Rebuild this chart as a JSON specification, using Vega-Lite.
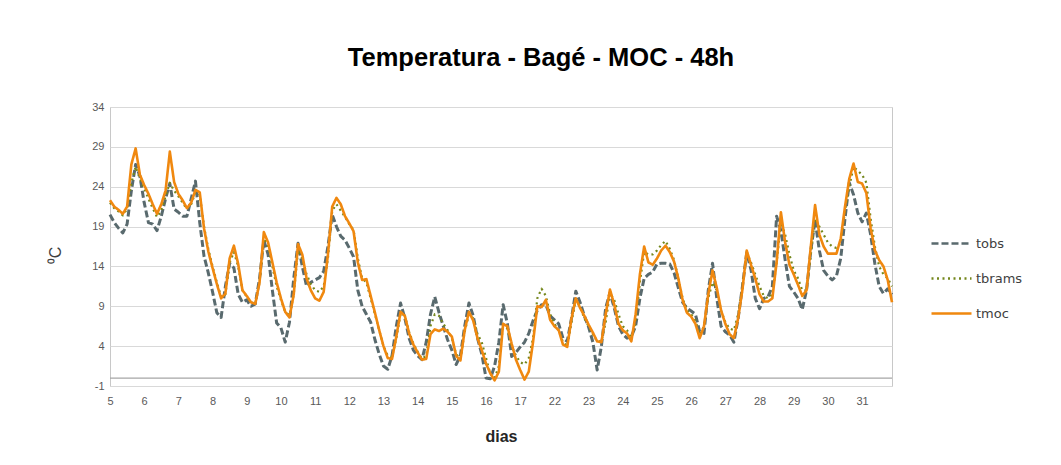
{
"$schema": "https://vega.github.io/schema/vega-lite/v6.json",
"width": 782, "height": 279,
"autosize": {"type": "none"},
"padding": {"left": 110, "top": 107, "right": 169, "bottom": 79},
"background": "white",
"title": {"text": "Temperatura - Bagé - MOC - 48h", "font": "Liberation Sans", "fontSize": 25.5, "fontWeight": "bold", "color": "#000000", "anchor": "middle", "dx": 40, "baseline": "alphabetic", "offset": 10},
"config": {
  "view": {"stroke": "#c8c8c8", "strokeWidth": 1},
  "axis": {"labelFont": "Liberation Sans", "labelFontSize": 11, "labelColor": "#595959", "titleFont": "Liberation Sans", "titleColor": "#404040"},
  "legend": {"symbolType": "stroke", "symbolSize": 1600, "symbolStrokeWidth": 2.6, "labelFont": "DejaVu Sans", "labelFontSize": 13, "labelColor": "#404040", "labelOffset": 3}
},
"data": {"values": [
{"t":0,"tobs":20.5,"tbrams":22.0,"tmoc":22.3},{"t":1,"tobs":19.5,"tbrams":21.3,"tmoc":21.5},{"t":2,"tobs":18.8,"tbrams":20.9,"tmoc":21.1},{"t":3,"tobs":18.2,"tbrams":20.4,"tmoc":20.6},{"t":4,"tobs":19.3,"tbrams":21.2,"tmoc":21.5},{"t":5,"tobs":23.5,"tbrams":24.5,"tmoc":26.8},{"t":6,"tobs":26.8,"tbrams":26.5,"tmoc":28.8},{"t":7,"tobs":25.3,"tbrams":25.0,"tmoc":25.5},
{"t":8,"tobs":22.0,"tbrams":23.8,"tmoc":24.2},{"t":9,"tobs":19.5,"tbrams":22.5,"tmoc":23.1},{"t":10,"tobs":19.3,"tbrams":21.3,"tmoc":21.8},{"t":11,"tobs":18.5,"tbrams":20.2,"tmoc":20.6},{"t":12,"tobs":20.3,"tbrams":21.0,"tmoc":21.8},{"t":13,"tobs":22.5,"tbrams":22.8,"tmoc":23.5},{"t":14,"tobs":24.4,"tbrams":24.5,"tmoc":28.4},{"t":15,"tobs":21.2,"tbrams":23.5,"tmoc":24.6},
{"t":16,"tobs":20.8,"tbrams":22.8,"tmoc":23.1},{"t":17,"tobs":20.3,"tbrams":22.0,"tmoc":22.3},{"t":18,"tobs":20.3,"tbrams":21.2,"tmoc":21.3},{"t":19,"tobs":22.5,"tbrams":21.8,"tmoc":22.0},{"t":20,"tobs":24.7,"tbrams":23.3,"tmoc":23.6},{"t":21,"tobs":19.5,"tbrams":23.0,"tmoc":23.3},{"t":22,"tobs":15.3,"tbrams":19.0,"tmoc":18.8},{"t":23,"tobs":13.2,"tbrams":16.2,"tmoc":15.9},
{"t":24,"tobs":10.8,"tbrams":14.0,"tmoc":13.8},{"t":25,"tobs":8.2,"tbrams":12.0,"tmoc":11.8},{"t":26,"tobs":7.6,"tbrams":10.2,"tmoc":10.0},{"t":27,"tobs":11.5,"tbrams":10.5,"tmoc":10.6},{"t":28,"tobs":14.4,"tbrams":14.5,"tmoc":15.0},{"t":29,"tobs":13.8,"tbrams":15.8,"tmoc":16.6},{"t":30,"tobs":10.5,"tbrams":14.0,"tmoc":14.3},{"t":31,"tobs":9.5,"tbrams":11.0,"tmoc":11.0},
{"t":32,"tobs":9.8,"tbrams":10.2,"tmoc":10.3},{"t":33,"tobs":9.0,"tbrams":9.5,"tmoc":9.5},{"t":34,"tobs":9.3,"tbrams":9.3,"tmoc":9.3},{"t":35,"tobs":12.5,"tbrams":12.0,"tmoc":12.0},{"t":36,"tobs":17.3,"tbrams":17.5,"tmoc":18.3},{"t":37,"tobs":15.5,"tbrams":16.5,"tmoc":17.0},{"t":38,"tobs":11.0,"tbrams":14.0,"tmoc":14.5},{"t":39,"tobs":6.9,"tbrams":11.5,"tmoc":12.0},
{"t":40,"tobs":6.3,"tbrams":9.8,"tmoc":10.0},{"t":41,"tobs":4.5,"tbrams":8.3,"tmoc":8.3},{"t":42,"tobs":7.0,"tbrams":7.8,"tmoc":7.6},{"t":43,"tobs":12.5,"tbrams":10.5,"tmoc":10.5},{"t":44,"tobs":16.9,"tbrams":16.0,"tmoc":16.8},{"t":45,"tobs":14.0,"tbrams":15.0,"tmoc":15.5},{"t":46,"tobs":11.5,"tbrams":13.0,"tmoc":12.5},{"t":47,"tobs":12.0,"tbrams":11.8,"tmoc":11.0},
{"t":48,"tobs":12.3,"tbrams":11.0,"tmoc":10.0},{"t":49,"tobs":12.6,"tbrams":10.8,"tmoc":9.7},{"t":50,"tobs":13.4,"tbrams":11.5,"tmoc":10.8},{"t":51,"tobs":16.5,"tbrams":15.0,"tmoc":15.5},{"t":52,"tobs":20.5,"tbrams":21.0,"tmoc":21.5},{"t":53,"tobs":19.0,"tbrams":21.8,"tmoc":22.6},{"t":54,"tobs":17.8,"tbrams":21.0,"tmoc":21.8},{"t":55,"tobs":17.3,"tbrams":20.2,"tmoc":20.3},
{"t":56,"tobs":16.3,"tbrams":19.3,"tmoc":19.4},{"t":57,"tobs":15.2,"tbrams":18.6,"tmoc":18.4},{"t":58,"tobs":11.0,"tbrams":15.0,"tmoc":14.5},{"t":59,"tobs":9.0,"tbrams":12.5,"tmoc":12.3},{"t":60,"tobs":8.0,"tbrams":12.0,"tmoc":12.4},{"t":61,"tobs":7.0,"tbrams":10.0,"tmoc":10.3},{"t":62,"tobs":4.8,"tbrams":8.0,"tmoc":8.2},{"t":63,"tobs":3.0,"tbrams":6.0,"tmoc":6.0},
{"t":64,"tobs":1.5,"tbrams":4.0,"tmoc":4.0},{"t":65,"tobs":1.1,"tbrams":2.8,"tmoc":2.5},{"t":66,"tobs":2.8,"tbrams":2.6,"tmoc":2.4},{"t":67,"tobs":6.5,"tbrams":5.0,"tmoc":5.2},{"t":68,"tobs":9.4,"tbrams":8.0,"tmoc":8.3},{"t":69,"tobs":7.5,"tbrams":7.8,"tmoc":7.8},{"t":70,"tobs":5.0,"tbrams":5.8,"tmoc":5.6},{"t":71,"tobs":3.5,"tbrams":4.3,"tmoc":4.2},
{"t":72,"tobs":2.8,"tbrams":3.3,"tmoc":3.2},{"t":73,"tobs":2.3,"tbrams":2.4,"tmoc":2.3},{"t":74,"tobs":4.5,"tbrams":2.8,"tmoc":2.4},{"t":75,"tobs":8.0,"tbrams":6.5,"tmoc":5.5},{"t":76,"tobs":10.2,"tbrams":8.0,"tmoc":6.1},{"t":77,"tobs":8.2,"tbrams":7.8,"tmoc":5.9},{"t":78,"tobs":6.5,"tbrams":6.8,"tmoc":6.2},{"t":79,"tobs":4.8,"tbrams":6.0,"tmoc":5.8},
{"t":80,"tobs":3.5,"tbrams":5.0,"tmoc":5.2},{"t":81,"tobs":1.7,"tbrams":3.0,"tmoc":2.8},{"t":82,"tobs":2.8,"tbrams":2.4,"tmoc":2.2},{"t":83,"tobs":6.5,"tbrams":5.8,"tmoc":6.0},{"t":84,"tobs":9.4,"tbrams":8.0,"tmoc":8.3},{"t":85,"tobs":7.8,"tbrams":7.5,"tmoc":7.2},{"t":86,"tobs":5.0,"tbrams":5.5,"tmoc":5.0},{"t":87,"tobs":3.0,"tbrams":4.5,"tmoc":3.5},
{"t":88,"tobs":0.0,"tbrams":2.5,"tmoc":1.8},{"t":89,"tobs":-0.1,"tbrams":0.5,"tmoc":0.6},{"t":90,"tobs":1.5,"tbrams":0.0,"tmoc":-0.3},{"t":91,"tobs":4.5,"tbrams":1.5,"tmoc":0.8},{"t":92,"tobs":9.2,"tbrams":6.8,"tmoc":6.8},{"t":93,"tobs":6.8,"tbrams":6.2,"tmoc":6.5},{"t":94,"tobs":2.7,"tbrams":4.0,"tmoc":4.3},{"t":95,"tobs":3.2,"tbrams":2.8,"tmoc":2.3},
{"t":96,"tobs":3.9,"tbrams":2.0,"tmoc":1.0},{"t":97,"tobs":4.5,"tbrams":1.7,"tmoc":-0.2},{"t":98,"tobs":5.6,"tbrams":2.5,"tmoc":0.8},{"t":99,"tobs":7.2,"tbrams":5.0,"tmoc":4.5},{"t":100,"tobs":8.5,"tbrams":10.0,"tmoc":9.0},{"t":101,"tobs":9.2,"tbrams":11.2,"tmoc":8.9},{"t":102,"tobs":9.2,"tbrams":10.3,"tmoc":9.8},{"t":103,"tobs":7.8,"tbrams":8.0,"tmoc":7.3},
{"t":104,"tobs":7.3,"tbrams":6.8,"tmoc":6.5},{"t":105,"tobs":6.8,"tbrams":6.0,"tmoc":6.0},{"t":106,"tobs":5.0,"tbrams":4.5,"tmoc":4.2},{"t":107,"tobs":4.6,"tbrams":4.0,"tmoc":3.9},{"t":108,"tobs":7.5,"tbrams":7.0,"tmoc":7.5},{"t":109,"tobs":10.9,"tbrams":9.8,"tmoc":10.0},{"t":110,"tobs":9.5,"tbrams":9.0,"tmoc":8.8},{"t":111,"tobs":7.8,"tbrams":7.5,"tmoc":7.8},
{"t":112,"tobs":6.4,"tbrams":6.5,"tmoc":6.7},{"t":113,"tobs":4.5,"tbrams":5.5,"tmoc":5.7},{"t":114,"tobs":1.0,"tbrams":4.6,"tmoc":4.6},{"t":115,"tobs":4.0,"tbrams":4.6,"tmoc":4.5},{"t":116,"tobs":8.8,"tbrams":7.0,"tmoc":8.0},{"t":117,"tobs":10.7,"tbrams":10.7,"tmoc":11.1},{"t":118,"tobs":8.8,"tbrams":9.8,"tmoc":9.2},{"t":119,"tobs":6.5,"tbrams":8.0,"tmoc":6.8},
{"t":120,"tobs":5.5,"tbrams":6.5,"tmoc":6.0},{"t":121,"tobs":5.0,"tbrams":6.0,"tmoc":5.6},{"t":122,"tobs":5.2,"tbrams":5.0,"tmoc":4.6},{"t":123,"tobs":6.5,"tbrams":7.0,"tmoc":8.0},{"t":124,"tobs":10.0,"tbrams":12.0,"tmoc":13.0},{"t":125,"tobs":12.5,"tbrams":15.8,"tmoc":16.5},{"t":126,"tobs":13.0,"tbrams":15.5,"tmoc":14.5},{"t":127,"tobs":13.3,"tbrams":15.5,"tmoc":14.2},
{"t":128,"tobs":14.3,"tbrams":16.0,"tmoc":15.0},{"t":129,"tobs":14.4,"tbrams":16.7,"tmoc":16.0},{"t":130,"tobs":14.4,"tbrams":17.2,"tmoc":16.6},{"t":131,"tobs":14.3,"tbrams":16.2,"tmoc":15.8},{"t":132,"tobs":13.2,"tbrams":14.8,"tmoc":14.6},{"t":133,"tobs":11.3,"tbrams":12.5,"tmoc":12.5},{"t":134,"tobs":9.5,"tbrams":10.0,"tmoc":9.8},{"t":135,"tobs":8.8,"tbrams":8.5,"tmoc":8.2},
{"t":136,"tobs":8.4,"tbrams":8.0,"tmoc":7.7},{"t":137,"tobs":8.0,"tbrams":7.2,"tmoc":6.8},{"t":138,"tobs":5.8,"tbrams":5.5,"tmoc":5.0},{"t":139,"tobs":5.6,"tbrams":6.5,"tmoc":6.5},{"t":140,"tobs":11.0,"tbrams":10.0,"tmoc":10.5},{"t":141,"tobs":14.4,"tbrams":12.0,"tmoc":13.5},{"t":142,"tobs":10.0,"tbrams":11.0,"tmoc":11.3},{"t":143,"tobs":6.5,"tbrams":8.5,"tmoc":8.5},
{"t":144,"tobs":5.8,"tbrams":7.0,"tmoc":6.8},{"t":145,"tobs":5.4,"tbrams":6.2,"tmoc":5.5},{"t":146,"tobs":4.5,"tbrams":6.0,"tmoc":5.0},{"t":147,"tobs":7.5,"tbrams":8.0,"tmoc":7.5},{"t":148,"tobs":11.5,"tbrams":11.5,"tmoc":11.1},{"t":149,"tobs":15.7,"tbrams":15.8,"tmoc":16.0},{"t":150,"tobs":13.6,"tbrams":14.5,"tmoc":14.2},{"t":151,"tobs":10.0,"tbrams":13.0,"tmoc":12.5},
{"t":152,"tobs":8.7,"tbrams":11.5,"tmoc":10.5},{"t":153,"tobs":10.0,"tbrams":10.3,"tmoc":9.6},{"t":154,"tobs":10.2,"tbrams":10.0,"tmoc":9.6},{"t":155,"tobs":11.5,"tbrams":10.5,"tmoc":10.0},{"t":156,"tobs":20.3,"tbrams":14.5,"tmoc":14.5},{"t":157,"tobs":18.5,"tbrams":19.5,"tmoc":20.8},{"t":158,"tobs":14.8,"tbrams":18.0,"tmoc":17.0},{"t":159,"tobs":11.5,"tbrams":15.5,"tmoc":14.2},
{"t":160,"tobs":10.8,"tbrams":13.5,"tmoc":13.0},{"t":161,"tobs":10.0,"tbrams":12.5,"tmoc":11.7},{"t":162,"tobs":8.6,"tbrams":11.0,"tmoc":10.3},{"t":163,"tobs":11.0,"tbrams":11.0,"tmoc":11.0},{"t":164,"tobs":16.0,"tbrams":15.5,"tmoc":16.5},{"t":165,"tobs":19.8,"tbrams":20.0,"tmoc":21.7},{"t":166,"tobs":16.0,"tbrams":19.0,"tmoc":18.0},{"t":167,"tobs":13.5,"tbrams":18.0,"tmoc":16.5},
{"t":168,"tobs":12.8,"tbrams":17.0,"tmoc":15.6},{"t":169,"tobs":12.3,"tbrams":16.5,"tmoc":15.6},{"t":170,"tobs":12.8,"tbrams":16.3,"tmoc":15.6},{"t":171,"tobs":15.0,"tbrams":17.0,"tmoc":17.5},{"t":172,"tobs":20.0,"tbrams":21.0,"tmoc":21.5},{"t":173,"tobs":24.5,"tbrams":24.0,"tmoc":25.0},{"t":174,"tobs":23.0,"tbrams":26.5,"tmoc":26.9},{"t":175,"tobs":20.7,"tbrams":26.0,"tmoc":24.6},
{"t":176,"tobs":19.6,"tbrams":25.5,"tmoc":24.4},{"t":177,"tobs":20.7,"tbrams":24.5,"tmoc":23.2},{"t":178,"tobs":18.0,"tbrams":20.0,"tmoc":18.8},{"t":179,"tobs":14.3,"tbrams":16.5,"tmoc":16.0},{"t":180,"tobs":11.5,"tbrams":14.0,"tmoc":14.8},{"t":181,"tobs":10.6,"tbrams":13.0,"tmoc":14.0},{"t":182,"tobs":11.2,"tbrams":12.5,"tmoc":12.3},{"t":183,"tobs":10.5,"tbrams":11.5,"tmoc":9.5}
]},
"encoding": {
  "x": {"field": "t", "type": "quantitative", "scale": {"domain": [0, 183], "nice": false, "zero": false},
    "axis": {"values": [0,8,16,24,32,40,48,56,64,72,80,88,96,104,112,120,128,136,144,152,160,168,176],
      "labelExpr": "['5','6','7','8','9','10','11','12','13','14','15','16','17','22','23','24','25','26','27','28','29','30','31'][round(datum.value/8)]",
      "grid": false, "ticks": false, "domain": false, "labelPadding": 9, "labelOverlap": false, "labelFlush": false, "labelBound": false, "title": "dias", "titleFontSize": 16, "titleFontWeight": "bold", "titleColor": "#262626", "titlePadding": 22}},
  "y": {"field": "valor", "type": "quantitative", "scale": {"domain": [-1, 34], "nice": false, "zero": false},
    "axis": {"values": [-1,4,9,14,19,24,29,34], "labelExpr": "datum.value < 0 ? '-' + abs(datum.value) : '' + datum.value", "grid": true, "gridColor": "#d9d9d9", "gridWidth": 1, "ticks": false, "domain": false, "labelPadding": 6, "title": "⁰C", "titleFontSize": 16, "titleFontWeight": "normal", "titlePadding": 28, "titleY": 148}}
},
"layer": [
  {
    "data": {"values": [{"valor": 0}]},
    "mark": {"type": "rule", "color": "#a6a6a6", "strokeWidth": 1.3},
    "encoding": {"x": null}
  },
  {
    "transform": [{"fold": ["tobs", "tbrams", "tmoc"], "as": ["serie", "valor"]}, {"filter": "datum.serie === 'tobs'"}],
    "mark": {"type": "line", "strokeWidth": 3, "strokeJoin": "round"},
    "encoding": {
      "color": {"field": "serie", "type": "nominal", "scale": {"domain": ["tobs", "tbrams", "tmoc"], "range": ["#596a6e", "#74871c", "#f0880f"]},
        "legend": {"title": null, "orient": "none", "legendX": 820, "legendY": 115, "rowPadding": 6}},
      "strokeDash": {"field": "serie", "type": "nominal", "scale": {"domain": ["tobs", "tbrams", "tmoc"], "range": [[7, 3], [2, 3.5], [1, 0]]},
        "legend": {"title": null, "orient": "none", "legendX": 820, "legendY": 115, "rowPadding": 6}}
    }
  },
  {
    "transform": [{"fold": ["tobs", "tbrams", "tmoc"], "as": ["serie", "valor"]}, {"filter": "datum.serie === 'tbrams'"}],
    "mark": {"type": "line", "strokeWidth": 2.2, "strokeJoin": "round"},
    "encoding": {
      "color": {"field": "serie", "type": "nominal"},
      "strokeDash": {"field": "serie", "type": "nominal"}
    }
  },
  {
    "transform": [{"fold": ["tobs", "tbrams", "tmoc"], "as": ["serie", "valor"]}, {"filter": "datum.serie === 'tmoc'"}],
    "mark": {"type": "line", "strokeWidth": 2.6, "strokeJoin": "round"},
    "encoding": {
      "color": {"field": "serie", "type": "nominal"},
      "strokeDash": {"field": "serie", "type": "nominal"}
    }
  }
]
}
